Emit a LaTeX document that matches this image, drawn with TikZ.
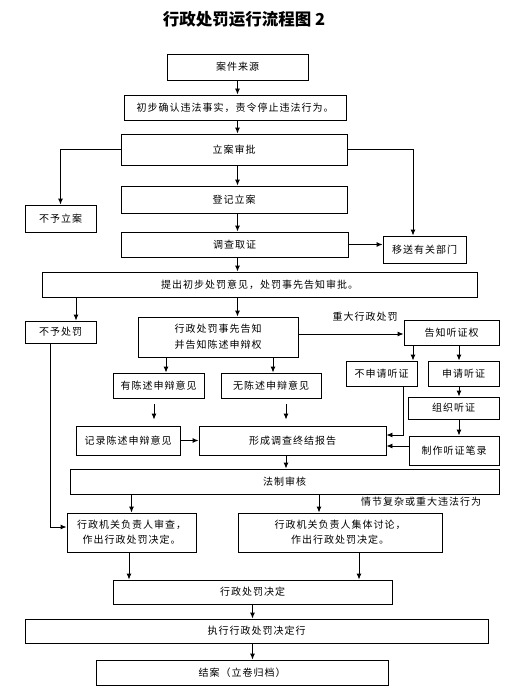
\documentclass[tikz,border=0pt]{standalone}
\usepackage{fontspec}
\setmainfont{Noto Sans CJK SC}
\newfontfamily\spaced[LetterSpace=10]{Noto Sans CJK SC}
\usetikzlibrary{arrows.meta,calc}
\tikzset{
  box/.style={draw, line width=0.9pt, inner sep=0pt, align=center, font=\spaced\fontsize{10}{16}\selectfont},
  arr/.style={line width=0.9pt, -{Latex[length=6pt,width=5pt]}},
  lbl/.style={inner sep=0pt, font=\spaced\fontsize{10}{12}\selectfont}
}
\begin{document}
\begin{tikzpicture}[x=1pt,y=-1pt]
\path[use as bounding box, fill=white] (0,0) rectangle (531,698);
\node[inner sep=0pt, font=\fontsize{16.5}{18}\selectfont\bfseries] (title) at (244,19) {行政处罚运行流程图 2};
\node[box, minimum width=141pt, minimum height=26pt] (n1) at (237.5,67) {案件来源};
\node[box, minimum width=222pt, minimum height=25pt] (n2) at (235,107.5) {初步确认违法事实，责令停止违法行为。};
\node[box, minimum width=226pt, minimum height=31pt] (n3) at (234,149.5) {立案审批};
\node[box, minimum width=226pt, minimum height=27pt] (n4) at (234,199.5) {登记立案};
\node[box, minimum width=71pt, minimum height=27pt] (n5) at (60.5,218.5) {不予立案};
\node[box, minimum width=227pt, minimum height=25pt] (n6) at (234.5,244.5) {调查取证};
\node[box, minimum width=83pt, minimum height=27pt] (n7) at (424.5,249.5) {移送有关部门};
\node[box, minimum width=435pt, minimum height=25pt] (n8) at (259.5,284.5) {提出初步处罚意见，处罚事先告知审批。};
\node[box, minimum width=71pt, minimum height=22pt] (n9) at (60.5,332) {不予处罚};
\node[box, minimum width=160pt, minimum height=40pt] (n10) at (218,337) {行政处罚事先告知\\并告知陈述申辩权};
\node[box, minimum width=95pt, minimum height=25pt] (n11) at (451.5,332.5) {告知听证权};
\node[box, minimum width=71pt, minimum height=25pt] (n12) at (381.5,373.5) {不申请听证};
\node[box, minimum width=71pt, minimum height=25pt] (n13) at (463.5,373.5) {申请听证};
\node[box, minimum width=91pt, minimum height=25pt] (n14) at (158.5,385.5) {有陈述申辩意见};
\node[box, minimum width=100pt, minimum height=25pt] (n15) at (271,385.5) {无陈述申辩意见};
\node[box, minimum width=91pt, minimum height=22pt] (n16) at (453.5,408) {组织听证};
\node[box, minimum width=104pt, minimum height=29pt] (n17) at (128,440.5) {记录陈述申辩意见};
\node[box, minimum width=187pt, minimum height=29pt] (n18) at (292.5,440.5) {形成调查终结报告};
\node[box, minimum width=90pt, minimum height=29pt] (n19) at (454,450.5) {制作听证笔录};
\node[box, minimum width=429pt, minimum height=25pt] (n20) at (284.5,481.5) {法制审核};
\node[box, minimum width=129pt, minimum height=39pt, font=\spaced\fontsize{10}{15}\selectfont] (n21) at (131.5,532.5) {行政机关负责人审查，\\作出行政处罚决定。};
\node[box, minimum width=204pt, minimum height=39pt, font=\spaced\fontsize{10}{15}\selectfont] (n22) at (340,532.5) {行政机关负责人集体讨论，\\作出行政处罚决定。};
\node[box, minimum width=279pt, minimum height=24pt] (n23) at (252.5,592) {行政处罚决定};
\node[box, minimum width=463pt, minimum height=24pt] (n24) at (256.5,631) {执行行政处罚决定行};
\node[box, minimum width=292pt, minimum height=25pt] (n25) at (242,672.5) {结案（立卷归档）};
\node[lbl] (l1) at (365,317) {重大行政处罚};
\node[lbl] (l2) at (421,502) {情节复杂或重大违法行为};
% connectors
\draw[arr] (n1.south) -- (n1.south |- n2.north);
\draw[arr] (n1.south |- n2.south) -- (n1.south |- n3.north);
\draw[arr] (n1.south |- n3.south) -- (n1.south |- n4.north);
\draw[arr] (n3.west) -| (n5.north);
\draw[arr] (n3.east) -| ([xshift=-11.5pt]n7.north);
\draw[arr] (n1.south |- n4.south) -- (n1.south |- n6.north);
\draw[arr] (n6.east) -- (n6.east -| n7.west);
\draw[arr] (n1.south |- n6.south) -- (n1.south |- n8.north);
\draw[arr] ([xshift=15.5pt]n9.north |- n8.south) -- ([xshift=15.5pt]n9.north);
\draw[arr] (n1.south |- n8.south) -- (n1.south |- n10.north);
\draw[arr] ([yshift=3pt]n10.east) -- ([yshift=3pt]n10.east -| n11.west);
\draw[arr] ([xshift=31.5pt]n12.north |- n11.south) -- ([xshift=31.5pt]n12.north);
\draw[arr] ([xshift=-4.5pt]n13.north |- n11.south) -- ([xshift=-4.5pt]n13.north);
\draw[arr] ([xshift=7.5pt]n14.north |- n10.south) -- ([xshift=7.5pt]n14.north);
\draw[arr] ([xshift=2pt]n15.north |- n10.south) -- ([xshift=2pt]n15.north);
\draw[arr, shorten <=6pt, shorten >=6pt] ([xshift=-4.5pt]n14.south) -- ([xshift=-4.5pt]n14.south |- n17.north);
\draw[arr, shorten <=6pt, shorten >=6pt] ([xshift=15pt]n15.south) -- ([xshift=15pt]n15.south |- n18.north);
\draw[arr] (n17.east) -- (n18.west);
\draw[arr] ([xshift=21.5pt]n12.south) |- ([yshift=5.5pt]n18.east);
\draw[arr] ([xshift=-4.5pt]n13.south) -- ([xshift=-4.5pt]n13.south |- n16.north);
\draw[arr] ([xshift=5pt]n19.north |- n16.south) -- ([xshift=5pt]n19.north);
\draw[arr] ([yshift=4.5pt]n19.west) -- ([yshift=4.5pt]n19.west -| n18.east);
\draw[arr] ([xshift=-6.5pt]n18.south) -- ([xshift=-6.5pt]n18.south |- n20.north);
\draw[arr] ([xshift=-10.5pt]n9.south) |- ([yshift=5.5pt]n21.west);
\draw[arr] (n21.north |- n20.south) -- (n21.north);
\draw[arr] ([xshift=-21pt]n22.north |- n20.south) -- ([xshift=-21pt]n22.north);
\draw[arr] ([xshift=-2.5pt]n21.south) -- ([xshift=-2.5pt]n21.south |- n23.north);
\draw[arr] ([xshift=19pt]n22.south) -- ([xshift=19pt]n22.south |- n23.north);
\draw[arr] (n23.south) -- (n23.south |- n24.north);
\draw[arr] (n23.south |- n24.south) -- (n23.south |- n25.north);
\end{tikzpicture}
\end{document}
